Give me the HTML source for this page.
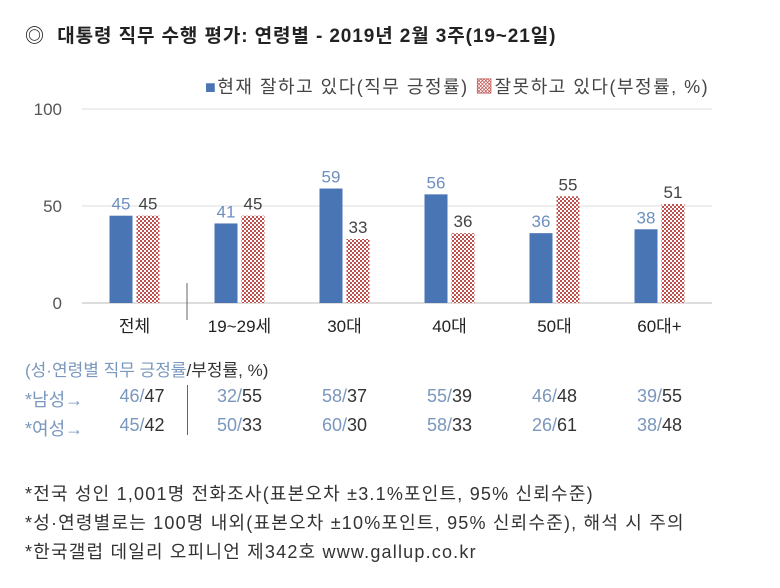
<!DOCTYPE html>
<html><head><meta charset="utf-8"><style>
body{margin:0;width:780px;height:588px;background:#fff;overflow:hidden;font-family:"Liberation Sans","Noto Sans CJK KR",sans-serif;}
.t{position:absolute;white-space:nowrap;}
.b{color:#7a97bd}.d{color:#333}
</style></head><body>
<div class="t" style="left:25px;top:21px;font-size:19px;font-weight:bold;color:#222;letter-spacing:0.9px">◎&nbsp; 대통령 직무 수행 평가: 연령별 - 2019년 2월 3주(19~21일)</div>
<svg id="c" width="780" height="340" style="position:absolute;left:0;top:0">
<defs><pattern id="chk" width="4" height="4" patternUnits="userSpaceOnUse"><rect width="4" height="4" fill="#fff"/><rect width="2" height="2" fill="#c0504d"/><rect x="2" y="2" width="2" height="2" fill="#c0504d"/></pattern></defs>
</svg>
<div class="t" style="left:205px;top:73px;font-size:18px;color:#444;letter-spacing:1.5px"><span style="color:#4a75b5">■</span>현재 잘하고 있다(직무 긍정률) <span style="color:#c0504d">▩</span>잘못하고 있다(부정률, %)</div>
<div class="t b" style="left:25px;top:356px;font-size:17px">(성·연령별 직무 긍정률<span class="d">/부정률, %)</span></div>
<div id="rows"></div>
<div style="position:absolute;left:187px;top:385px;width:1px;height:50px;background:#666"></div>
<div class="t d" style="left:25px;top:480px;font-size:18px;letter-spacing:1.2px">*전국 성인 1,001명 전화조사(표본오차 ±3.1%포인트, 95% 신뢰수준)</div>
<div class="t d" style="left:25px;top:509px;font-size:18px;letter-spacing:1.2px">*성·연령별로는 100명 내외(표본오차 ±10%포인트, 95% 신뢰수준), 해석 시 주의</div>
<div class="t d" style="left:25px;top:538px;font-size:18px;letter-spacing:1.2px">*한국갤럽 데일리 오피니언 제342호 www.gallup.co.kr</div>
<script>
const categories=["전체","19~29세","30대","40대","50대","60대+"];
const positive=[45,41,59,56,36,38];
const negative=[45,45,33,36,55,51];
const ticks=[0,50,100];
const maleRow=["46/47","32/55","58/37","55/39","46/48","39/55"];
const femaleRow=["45/42","50/33","60/30","58/33","26/61","38/48"];
const ns="http://www.w3.org/2000/svg",svg=document.getElementById('c');
const x0=82,x1=712,y0=303,y100=109;
const band=(x1-x0)/categories.length;
const y=v=>y0-(v/100)*(y0-y100);
const bx=i=>x0+band*i+band/2;
function mk(t,a,txt){const e=document.createElementNS(ns,t);for(const k in a)e.setAttribute(k,a[k]);if(txt!=null)e.textContent=txt;svg.appendChild(e);return e;}
ticks.forEach(v=>{
 const l=mk('line',{x1:x0,x2:x1,y1:y(v),y2:y(v),stroke:v===0?'#bbb':'#ddd','stroke-width':1});
 
 
 const t=mk('text',{x:62,y:y(v)+6,'text-anchor':'end','font-size':17,fill:'#555'},v);
 
 
});
const dv=mk('line',{x1:187,x2:187,y1:283,y2:320,stroke:'#666'});


categories.forEach((c,i)=>{
 const cx=bx(i),w=23;
 const r1=mk('rect',{x:cx-w-2,y:y(positive[i]),width:w,height:y0-y(positive[i]),fill:'#4a75b5'});
 
 
 const r2=mk('rect',{x:cx+2,y:y(negative[i]),width:w,height:y0-y(negative[i]),fill:'url(#chk)'});
 
 
 const t1=mk('text',{x:cx-w/2-2,y:y(positive[i])-6,'text-anchor':'middle','font-size':17,fill:'#6d8fc0'},positive[i]);
 
 
 const t2=mk('text',{x:cx+w/2+2,y:y(negative[i])-6,'text-anchor':'middle','font-size':17,fill:'#444'},negative[i]);
 
 
 const tc=mk('text',{x:cx,y:332,'text-anchor':'middle','font-size':17,fill:'#222'},c);
 
 
});
const rows=document.getElementById('rows');
[["*남성→",maleRow,386],["*여성→",femaleRow,415]].forEach(([lab,arr,top],r)=>{
 const d=document.createElement('div');d.className='t b';d.style.cssText=`left:25px;top:${top}px;font-size:18px`;d.textContent=lab;
 
 
 rows.appendChild(d);
 arr.forEach((v,i)=>{const [a,b]=v.split('/');const e=document.createElement('div');e.className='t';
  e.style.cssText=`left:${i===0?142:bx(i)}px;top:${top}px;font-size:18px;transform:translateX(-50%)`;
  e.innerHTML=`<span class="b">${a}/</span><span class="d">${b}</span>`;
  
  
  rows.appendChild(e);});
});
</script>
</body></html>
